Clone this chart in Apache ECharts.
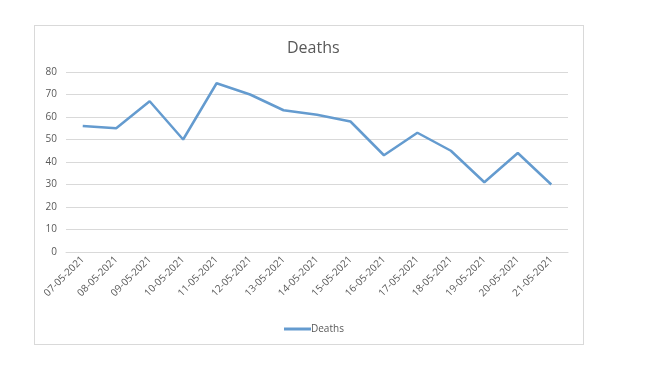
<!DOCTYPE html>
<html>
<head>
<meta charset="utf-8">
<script src="https://cdn.jsdelivr.net/npm/echarts@6/dist/echarts.min.js"></script>
<style>
  html, body { margin: 0; padding: 0; background: #fff; }
  #main { width: 650px; height: 378px; position: relative; }
  #frame { position: absolute; left: 34px; top: 25px; width: 548px; height: 318px; border: 1px solid #d9d9d9; pointer-events: none; }
</style>
</head>
<body>
<div id="main"></div>
<div id="frame"></div>
<script>
// 日期
const dates = ['07-05-2021', '08-05-2021', '09-05-2021', '10-05-2021', '11-05-2021',
  '12-05-2021', '13-05-2021', '14-05-2021', '15-05-2021', '16-05-2021',
  '17-05-2021', '18-05-2021', '19-05-2021', '20-05-2021', '21-05-2021'];
// 死亡人数
const deaths = [56, 55, 67, 50, 75, 70, 63, 61, 58, 43, 53, 45, 31, 44, 30];

const font = "'Open Sans', sans-serif";
let chart = echarts.init(document.getElementById('main'));
let option = {
  animation: false,
  title: {
    text: 'Deaths',
    left: 282,
    top: 35,
    textStyle: { color: '#595959', fontSize: 16, fontWeight: 'normal', fontFamily: font }
  },
  legend: {
    top: 319,
    left: 279,
    itemWidth: 27,
    itemHeight: 3,
    icon: 'rect',
    textStyle: { color: '#595959', fontSize: 10, fontFamily: font, padding: [0, 0, 0, -5] }
  },
  grid: { left: 66, right: 82, top: 72, bottom: 126 },
  xAxis: {
    type: 'category',
    data: dates,
    axisLine: { lineStyle: { color: '#d9d9d9' } },
    axisTick: { show: false },
    axisLabel: { rotate: 45, color: '#595959', fontSize: 10, fontFamily: font, margin: 6 }
  },
  yAxis: {
    type: 'value',
    min: 0,
    max: 80,
    interval: 10,
    axisLine: { show: false },
    axisTick: { show: false },
    splitLine: { lineStyle: { color: '#d9d9d9' } },
    axisLabel: { color: '#595959', fontSize: 10, fontFamily: font, margin: 9 }
  },
  series: [{
    name: 'Deaths',
    type: 'line',
    data: deaths,
    symbol: 'none',
    lineStyle: { color: '#649bcf', width: 2.5 },
    itemStyle: { color: '#649bcf' }
  }]
};
chart.setOption(option);
</script>
</body>
</html>
